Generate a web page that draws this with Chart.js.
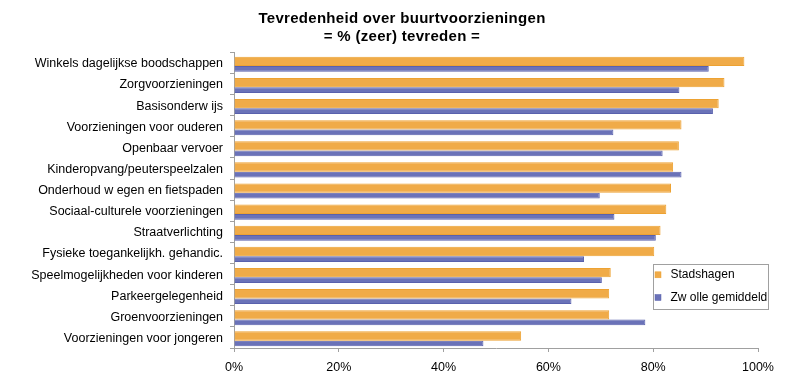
<!DOCTYPE html>
<html>
<head>
<meta charset="utf-8">
<script src="https://cdn.jsdelivr.net/npm/chart.js@4"></script>
<style>
html,body{margin:0;padding:0;background:#fff;}
#wrap{width:798px;height:386px;position:relative;}
</style>
</head>
<body>
<div id="wrap"><canvas id="c" width="798" height="386"></canvas></div>
<script>
const categories = [
  'Winkels dagelijkse boodschappen',
  'Zorgvoorzieningen',
  'Basisonderw ijs',
  'Voorzieningen voor ouderen',
  'Openbaar vervoer',
  'Kinderopvang/peuterspeelzalen',
  'Onderhoud w egen en fietspaden',
  'Sociaal-culturele voorzieningen',
  'Straatverlichting',
  'Fysieke toegankelijkh. gehandic.',
  'Speelmogelijkheden voor kinderen',
  'Parkeergelegenheid',
  'Groenvoorzieningen',
  'Voorzieningen voor jongeren'
];
const stadshagen = [97.4, 93.6, 92.5, 85.4, 84.9, 83.8, 83.4, 82.5, 81.4, 80.2, 71.9, 71.6, 71.6, 54.8];
const zwolle     = [90.6, 85.0, 91.4, 72.4, 81.8, 85.4, 69.8, 72.6, 80.5, 66.8, 70.2, 64.4, 78.5, 47.6];
const seriesNames = ['Stadshagen', 'Zw olle gemiddeld'];
const titleLines = ['Tevredenheid over buurtvoorzieningen', '= % (zeer) tevreden ='];
const xTicks = [0, 20, 40, 60, 80, 100];

const FONT = '"Liberation Sans", Arial, sans-serif';
const orangeFill = '#F0AB48', orangeBorder = '#EDA232';
const blueFill = '#6A72B8', blueBorder = '#5961AD';

const titleAndLegend = {
  id: 'titleAndLegend',
  afterDraw(chart) {
    const ctx = chart.ctx;
    ctx.save();
    // title
    ctx.fillStyle = '#000';
    ctx.font = 'bold 15px ' + FONT;
    ctx.textAlign = 'center';
    ctx.textBaseline = 'alphabetic';
    try { ctx.letterSpacing = '0.3px'; } catch (e) {}
    ctx.fillText(titleLines[0], 402, 22.5);
    ctx.fillText(titleLines[1], 402, 41);
    try { ctx.letterSpacing = '0px'; } catch (e) {}
    // legend
    const x0 = 653.5, y0 = 264.5, w = 115, h = 45;
    ctx.fillStyle = '#fff';
    ctx.fillRect(x0, y0, w, h);
    ctx.strokeStyle = '#A0A0A0';
    ctx.lineWidth = 1;
    ctx.strokeRect(x0, y0, w, h);
    ctx.font = '12px ' + FONT;
    ctx.textAlign = 'left';
    chart.data.datasets.forEach((ds, i) => {
      const base = 278.3 + i * 22.7;
      ctx.fillStyle = ds.backgroundColor;
      ctx.fillRect(655, base - 6.5, 6, 6);
      ctx.strokeStyle = ds.borderColor;
      ctx.lineWidth = 0.5;
      ctx.strokeRect(655, base - 6.5, 6, 6);
      ctx.fillStyle = '#000';
      ctx.fillText(ds.label, 670.5, base);
    });
    ctx.restore();
  }
};

new Chart(document.getElementById('c'), {
  type: 'bar',
  data: {
    labels: categories,
    datasets: [
      { label: seriesNames[0], data: stadshagen, backgroundColor: orangeFill, borderColor: orangeBorder, borderWidth: 1, categoryPercentage: 0.275, barPercentage: 3.2 },
      { label: seriesNames[1], data: zwolle, backgroundColor: blueFill, borderColor: blueBorder, borderWidth: 1, categoryPercentage: 1.149, barPercentage: 0.471 }
    ]
  },
  plugins: [titleAndLegend],
  options: {
    indexAxis: 'y',
    responsive: false,
    animation: false,
    devicePixelRatio: 1,
    layout: { padding: { top: 52.3, right: 40, left: 0, bottom: 0 } },
    plugins: {
      legend: { display: false },
      tooltip: { enabled: false },
      title: { display: false }
    },
    scales: {
      x: {
        min: 0, max: 100,
        afterBuildTicks(scale) { scale.ticks = xTicks.map(v => ({ value: v })); },
        afterFit(scale) { scale.height = 38; },
        grid: { drawOnChartArea: false, drawTicks: true, tickLength: 4, color: '#A0A0A0' },
        border: { color: '#A0A0A0' },
        ticks: { color: '#000', font: { family: FONT, size: 12.5 }, padding: 8, callback: v => v + '%', maxRotation: 0 }
      },
      y: {
        afterFit(scale) { scale.width = 234; },
        grid: { drawOnChartArea: false, drawTicks: true, tickLength: 4, color: '#A0A0A0', offset: true },
        border: { color: '#A0A0A0' },
        ticks: { color: '#000', font: { family: FONT, size: 12.5 }, padding: 7, labelOffset: 1, autoSkip: false }
      }
    }
  }
});
</script>
</body>
</html>
